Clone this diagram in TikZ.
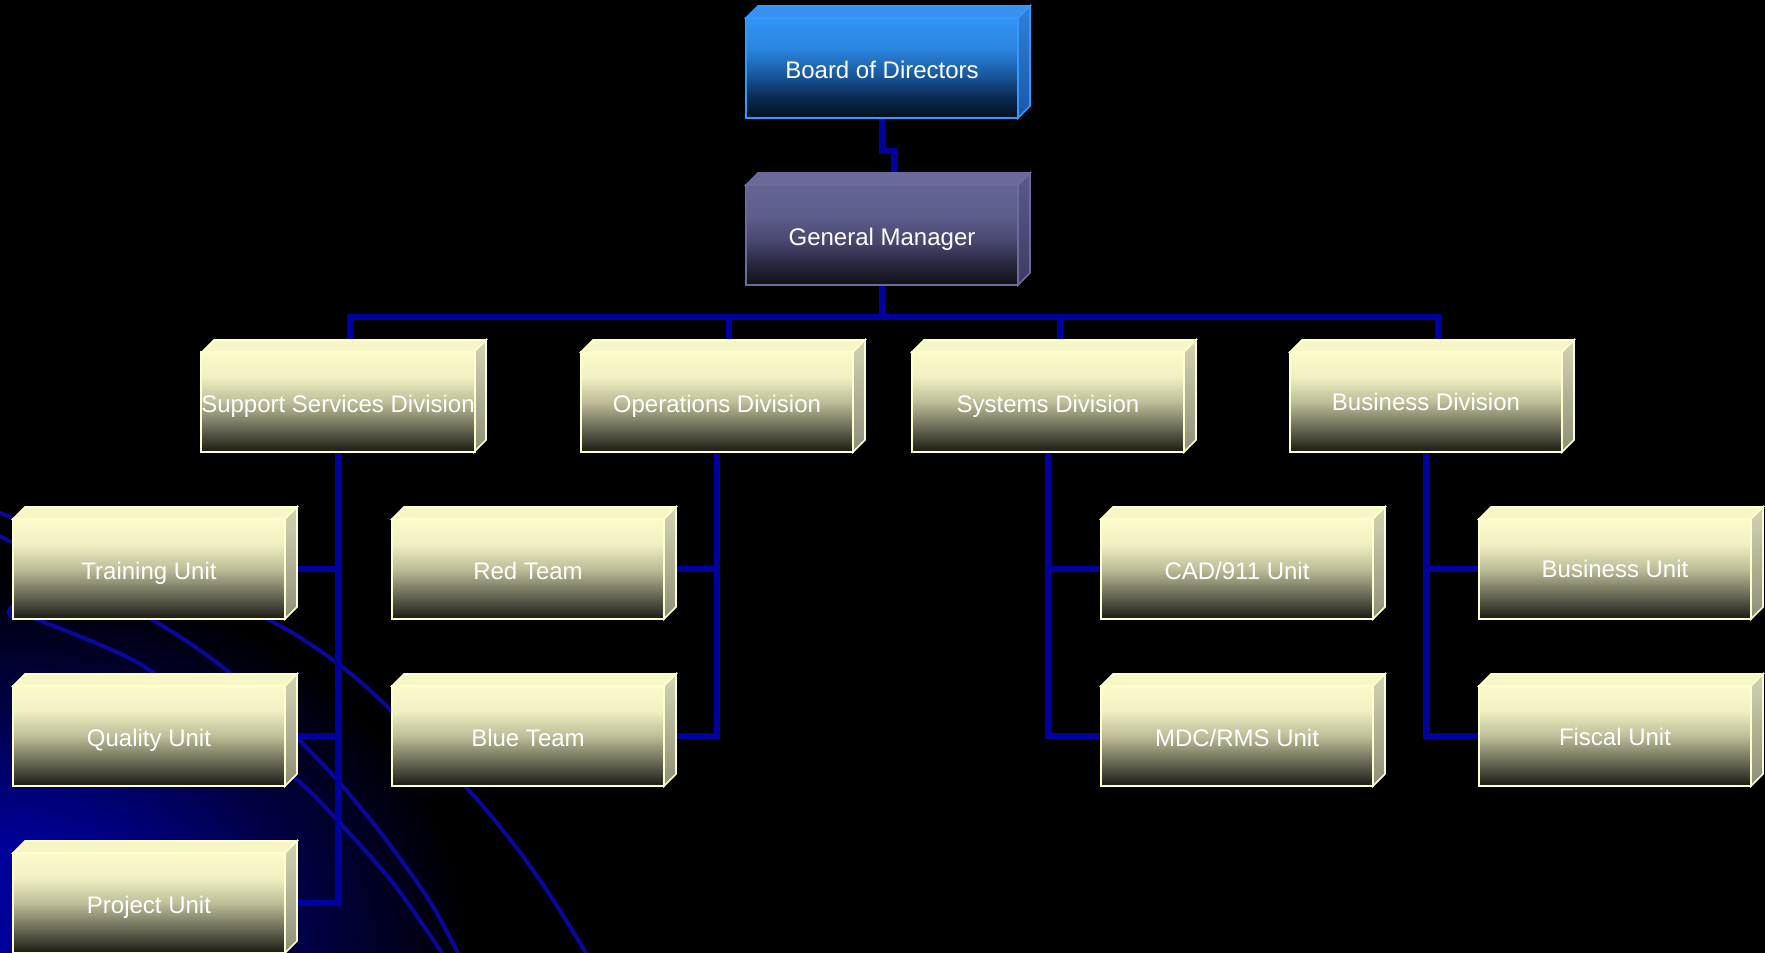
\documentclass[tikz,border=0pt]{standalone}
\usepackage{fontspec}
\setmainfont{Liberation Sans}
\usetikzlibrary{calc}
\pgfdeclarelayer{back}
\pgfdeclarelayer{links}
\pgfsetlayers{back,links,main}
\definecolor{conncol}{HTML}{0000A0}
\definecolor{curvecol}{HTML}{08089C}
\definecolor{cblue}{HTML}{00009A}
\definecolor{cmid}{HTML}{000048}
% yellow palette
\definecolor{yf0}{HTML}{FBFBCB}
\definecolor{yf1}{HTML}{F0F0C2}
\definecolor{yf2}{HTML}{BDBD98}
\definecolor{yf3}{HTML}{6C6C58}
\definecolor{yf4}{HTML}{1A1A14}
\definecolor{ybd}{HTML}{FFFFCC}
\definecolor{ytop}{HTML}{F6F6C6}
\definecolor{ys1}{HTML}{D4D4B4}
\definecolor{ys2}{HTML}{8E8E78}
% board palette
\definecolor{bf0}{HTML}{3194F4}
\definecolor{bf1}{HTML}{2B86E0}
\definecolor{bf2}{HTML}{1A5CA4}
\definecolor{bf3}{HTML}{0A2A50}
\definecolor{bf4}{HTML}{03101E}
\definecolor{bbd}{HTML}{3399FF}
\definecolor{btop}{HTML}{3A90EE}
\definecolor{bs1}{HTML}{2F80DA}
\definecolor{bs2}{HTML}{1A58A6}
% manager palette
\definecolor{gf0}{HTML}{646494}
\definecolor{gf1}{HTML}{5E5E8C}
\definecolor{gf2}{HTML}{4A4872}
\definecolor{gf3}{HTML}{26263C}
\definecolor{gf4}{HTML}{101018}
\definecolor{gbd}{HTML}{6B6B9E}
\definecolor{gtop}{HTML}{6A6A9A}
\definecolor{gs1}{HTML}{5C5A8C}
\definecolor{gs2}{HTML}{3C3A64}
\pgfdeclareverticalshading{yfront}{100bp}{color(0bp)=(yf4); color(25bp)=(yf4); color(37.5bp)=(yf3); color(50bp)=(yf2); color(62.5bp)=(yf1); color(75bp)=(yf0); color(100bp)=(yf0)}
\pgfdeclareverticalshading{bfront}{100bp}{color(0bp)=(bf4); color(25bp)=(bf4); color(35bp)=(bf3); color(47.5bp)=(bf2); color(60bp)=(bf1); color(75bp)=(bf0); color(100bp)=(bf0)}
\pgfdeclareverticalshading{gfront}{100bp}{color(0bp)=(gf4); color(25bp)=(gf4); color(35bp)=(gf3); color(47.5bp)=(gf2); color(60bp)=(gf1); color(75bp)=(gf0); color(100bp)=(gf0)}
\pgfdeclareradialshading{corner}{\pgfpoint{0bp}{0bp}}{color(0bp)=(cblue); color(7bp)=(cblue); color(16bp)=(cmid); color(25bp)=(black); color(50bp)=(black)}
\tikzset{
  conn/.style={draw=conncol, line width=5.5pt, line join=miter},
  curve/.style={draw=curvecol, line width=4pt},
  box/.style={rectangle, minimum width=272pt, minimum height=100pt, inner sep=0pt,
    text=white, font=\fontsize{24}{29}\selectfont, text height=20pt, text depth=0pt},
  yeltop/.style={fill=ytop},
  yelside/.style={top color=ys1, bottom color=ys2},
  yelfront/.style={shade, shading=yfront},
  yelline/.style={draw=ybd, line width=1.6pt},
  bodtop/.style={fill=btop},
  bodside/.style={top color=bs1, bottom color=bs2},
  bodfront/.style={shade, shading=bfront},
  bodline/.style={draw=bbd, line width=1.6pt},
  gmtop/.style={fill=gtop},
  gmside/.style={top color=gs1, bottom color=gs2},
  gmfront/.style={shade, shading=gfront},
  gmline/.style={draw=gbd, line width=1.6pt},
}
% #1 name, #2 x0, #3 y0, #4 palette, #5 text
\newcommand\obox[5]{%
  \path[#4top,#4line] (#2,#3) -- ++(12,-12) -- ++(272,0) -- ++(-12,12) -- cycle;
  \path[#4side,#4line] (#2+272,#3) -- ++(12,-12) -- ++(0,100) -- ++(-12,12) -- cycle;
  \node[box,#4front,#4line] (#1) at (#2+136,#3+50) {#5};
}
\begin{document}
\begin{tikzpicture}[x=1pt,y=-1pt]
\useasboundingbox (0,0) rectangle (1765,953);
\begin{pgfonlayer}{back}
\fill[black] (0,0) rectangle (1765,953);
\begin{scope}
  \clip (0,0) rectangle (1765,953);
  \shade[shading=corner] (0,953) ellipse [x radius=470pt, y radius=380pt];
  % decorative curves
  \draw[curve] plot[smooth] coordinates {(-5,511) (13,518) (140,568) (267,619) (337,663) (391,710) (466,787) (513,843) (550,895) (586,953) (598,975)};
  \draw[curve] plot[smooth] coordinates {(-5,535) (13,543) (153,620) (230,673) (299,740) (339,782) (384,837) (429,900) (458,953) (468,975)};
  \draw[curve] plot[smooth] coordinates {(20,613) (133,660) (214,719) (295,778) (339,822) (393,883) (442,953) (454,975)};
  \fill[curvecol] (15,612) circle[radius=8pt];
\end{scope}
\end{pgfonlayer}

% boxes
\obox{bod}{746}{18}{bod}{Board of Directors}
\obox{gm}{746}{185}{gm}{General Manager}
\obox{ss}{202}{352}{yel}{Support Services Division}
\obox{ops}{581}{352}{yel}{Operations Division}
\obox{sys}{912}{352}{yel}{Systems Division}
\obox{bus}{1290}{352}{yel}{\raisebox{2pt}{Business Division}}
\obox{tu}{13}{519}{yel}{Training Unit}
\obox{qu}{13}{686}{yel}{Quality Unit}
\obox{pu}{13}{853}{yel}{Project Unit}
\obox{rt}{392}{519}{yel}{Red Team}
\obox{bt}{392}{686}{yel}{Blue Team}
\obox{cad}{1101}{519}{yel}{CAD/911 Unit}
\obox{mdc}{1101}{686}{yel}{MDC/RMS Unit}
\obox{bu}{1479}{519}{yel}{\raisebox{2pt}{Business Unit}}
\obox{fu}{1479}{686}{yel}{\raisebox{1pt}{Fiscal Unit}}

% connectors (behind boxes)
\begin{pgfonlayer}{links}
\coordinate (gmtopc) at ($(gm.north)+(12,-12)$);
\draw[conn] (bod.south) -- ++(0,32) -| (gmtopc);
\coordinate (sstop) at ($(ss.north)+(12,-12)$);
\coordinate (opstop) at ($(ops.north)+(12,-12)$);
\coordinate (systop) at ($(sys.north)+(12,-12)$);
\coordinate (bustop) at ($(bus.north)+(12,-12)$);
\draw[conn] (gm.south) -- ++(0,31) -| (sstop);
\draw[conn] (gm.south) -- ++(0,31) -| (opstop);
\draw[conn] (gm.south) -- ++(0,31) -| (systop);
\draw[conn] (gm.south) -- ++(0,31) -| (bustop);
\coordinate (tuR) at ($(tu.east)+(12,0)$);
\coordinate (quR) at ($(qu.east)+(12,0)$);
\coordinate (puR) at ($(pu.east)+(12,0)$);
\coordinate (rtR) at ($(rt.east)+(12,0)$);
\coordinate (btR) at ($(bt.east)+(12,0)$);
\draw[conn] (ss.south) |- (tuR);
\draw[conn] (ss.south) |- (quR);
\draw[conn] (ss.south) |- (puR);
\draw[conn] (ops.south) |- (rtR);
\draw[conn] (ops.south) |- (btR);
\draw[conn] (sys.south) |- (cad.west);
\draw[conn] (sys.south) |- (mdc.west);
\draw[conn] (bus.south) |- (bu.west);
\draw[conn] (bus.south) |- (fu.west);
\end{pgfonlayer}
\end{tikzpicture}
\end{document}
